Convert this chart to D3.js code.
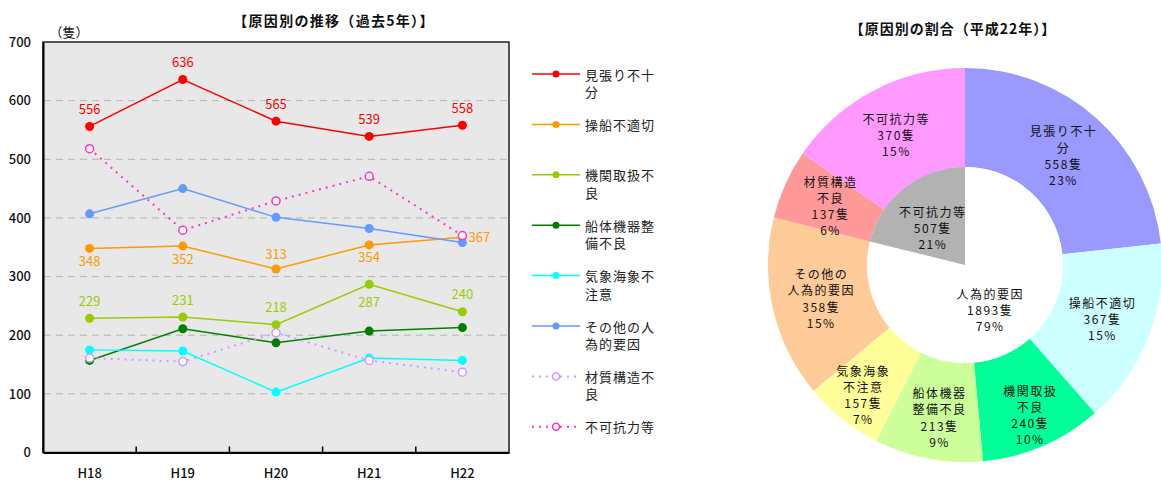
<!DOCTYPE html>
<html><head><meta charset="utf-8">
<script src="https://cdn.jsdelivr.net/npm/d3@7"></script>
<style>body{margin:0;background:#fff}svg{display:block}text{font-family:"Noto Sans CJK JP","Noto Sans",sans-serif}</style>
</head><body><svg id="c" width="1161" height="483"></svg>
<script>
// ---- data ----
const years = ["H18","H19","H20","H21","H22"];
const seriesNames = ["見張り不十分","操船不適切","機関取扱不良","船体機器整備不良","気象海象不注意","その他の人為的要因","材質構造不良","不可抗力等"];
const miharibu = [556,636,565,539,558];
const sosen = [348,352,313,354,367];
const kikan = [229,231,218,287,240];
const sentai = [157,211,187,207,213];
const kisho = [175,173,103,161,157];
const sonota = [407,450,401,382,358];
const zaishitsu = [161,155,204,157,137];
const fuka = [518,379,429,471,370];
const yTicks = [0,100,200,300,400,500,600,700];
const pieValues = [558,367,240,213,157,358,137,370];
const pieLabelLines = [["見張り不十","分"],["操船不適切"],["機関取扱","不良"],["船体機器","整備不良"],["気象海象","不注意"],["その他の","人為的要因"],["材質構造","不良"],["不可抗力等"]];
const innerNames = ["人為的要因","不可抗力等"];
const innerValues = [1893,507];

// ---- styles ----
const svg = d3.select("#c");
const seriesData = [miharibu,sosen,kikan,sentai,kisho,sonota,zaishitsu,fuka];
const colors = ["#ff0000","#ff9900","#99cc00","#008000","#00ffff","#6699ff","#cc99ff","#ff33cc"];
const dotted = [false,false,false,false,false,false,true,true];

// ---- line chart ----
const L = {x0:43, x1:509, y0:452.5, y1:42};
const x = d3.scaleBand().domain(years).range([L.x0, L.x1]).padding(0);
const y = d3.scaleLinear().domain([0,700]).range([L.y0, L.y1]);
const cx = d => x(d) + x.bandwidth()/2;

svg.append("rect").attr("x",L.x0).attr("y",L.y1).attr("width",L.x1-L.x0).attr("height",L.y0-L.y1)
  .attr("fill","#e8e8e8").attr("stroke","#222").attr("stroke-width",1.5);

svg.append("g").selectAll("line").data(yTicks.filter(t=>t>0 && t<700)).join("line")
  .attr("x1",L.x0+1).attr("x2",L.x1-1).attr("y1",d=>y(d)).attr("y2",d=>y(d))
  .attr("stroke","#b4b4b4").attr("stroke-width",1).attr("stroke-dasharray","7,5");

// axes
const yAxis = d3.axisLeft(y).tickValues(yTicks).tickSize(0).tickPadding(12);
const gy = svg.append("g").attr("transform",`translate(${L.x0},0)`).call(yAxis);
gy.select(".domain").attr("stroke","#000").attr("stroke-width",2);
gy.selectAll("text").attr("font-size",13).attr("fill","#111").attr("font-weight",500);

const xAxis = d3.axisBottom(x).tickSize(0).tickPadding(16);
const gx = svg.append("g").attr("transform",`translate(0,${L.y0})`).call(xAxis);
gx.select(".domain").attr("stroke","#000").attr("stroke-width",2);
gx.selectAll("text").attr("font-size",13).attr("fill","#111").attr("font-weight",500);
svg.append("g").selectAll("line").data(years.slice(1)).join("line")
  .attr("x1",d=>x(d)).attr("x2",d=>x(d)).attr("y1",L.y0).attr("y2",L.y0-6)
  .attr("stroke","#000").attr("stroke-width",1.5);

svg.append("text").attr("x",69).attr("y",31).attr("text-anchor","middle").attr("dominant-baseline","central")
  .attr("font-size",13).attr("fill","#111").text("（隻）");
svg.append("text").attr("x",334).attr("y",20).attr("text-anchor","middle").attr("dominant-baseline","central")
  .attr("font-size",14).attr("font-weight",700).attr("letter-spacing",1.3).attr("fill","#111").text("【原因別の推移（過去5年）】");

const line = d3.line().x((d,i)=>cx(years[i])).y(d=>y(d));
seriesData.forEach((s,k)=>{
  const g = svg.append("g");
  g.append("path").datum(s).attr("d",line).attr("fill","none").attr("stroke",colors[k])
    .attr("stroke-width",dotted[k]?2:1.5).attr("stroke-dasharray",dotted[k]?"2,5":null);
  g.selectAll("circle").data(s).join("circle").attr("cx",(d,i)=>cx(years[i])).attr("cy",d=>y(d))
    .attr("r",dotted[k]?4:4.5).attr("fill",dotted[k]?"#fff":colors[k])
    .attr("stroke",colors[k]).attr("stroke-width",dotted[k]?1.5:0);
});

// data labels (placement per point)
const labelPlace = [
  [[0,-18],[0,-18],[0,-18],[0,-18],[0,-18]],
  [[0,12],[0,12],[0,-15],[0,12],[17,-1]],
  [[0,-18],[0,-18],[0,-18],[0,17],[0,-18]]
];
labelPlace.forEach((pl,k)=>{
  svg.append("g").selectAll("text").data(seriesData[k]).join("text")
    .attr("x",(d,i)=>cx(years[i])+pl[i][0]).attr("y",(d,i)=>y(d)+pl[i][1])
    .attr("text-anchor","middle").attr("dominant-baseline","central")
    .attr("font-size",13).attr("fill",colors[k]).text(d=>d);
});

// legend
const lg = svg.append("g");
seriesNames.forEach((n,k)=>{
  const yy = 74 + k*50.4;
  lg.append("line").attr("x1",532).attr("x2",580).attr("y1",yy).attr("y2",yy).attr("stroke",colors[k])
    .attr("stroke-width",dotted[k]?2:1.5).attr("stroke-dasharray",dotted[k]?"2,5":null);
  lg.append("circle").attr("cx",556).attr("cy",yy).attr("r",3.5)
    .attr("fill",dotted[k]?"#fff":colors[k]).attr("stroke",colors[k]).attr("stroke-width",dotted[k]?1.5:0);
  const lines = [n.slice(0,5), n.slice(5)].filter(s=>s.length);
  lines.forEach((t,j)=>{
    lg.append("text").attr("x",585).attr("y",yy+j*17.5).attr("dominant-baseline","central")
      .attr("font-size",13).attr("letter-spacing",1).attr("fill","#222").text(t);
  });
});

// ---- pie chart ----
const P = {cx:965, cy:265, R:197, r:98};
const pieColors = ["#9999ff","#ccffff","#00ff99","#ccff99","#ffff99","#ffcc99","#ff9999","#ff99ff"];
const innerColors = ["#ffffff","#b2b2b2"];
svg.append("text").attr("x",953).attr("y",28).attr("text-anchor","middle").attr("dominant-baseline","central")
  .attr("font-size",14).attr("font-weight",700).attr("letter-spacing",1).attr("fill","#111").text("【原因別の割合（平成22年）】");

const pg = svg.append("g").attr("transform",`translate(${P.cx},${P.cy})`);
const pie = d3.pie().sort(null).value(d=>d);
const outerArcs = pie(pieValues);
const innerArcs = pie(innerValues);
const arcO = d3.arc().innerRadius(P.r).outerRadius(P.R);
const arcI = d3.arc().innerRadius(0).outerRadius(P.r);
pg.selectAll("path.o").data(outerArcs).join("path").attr("class","o").attr("d",arcO).attr("fill",(d,i)=>pieColors[i]);
pg.selectAll("path.i").data(innerArcs).join("path").attr("class","i").attr("d",arcI).attr("fill",(d,i)=>innerColors[i]);

const totalO = d3.sum(pieValues), totalI = d3.sum(innerValues);
const nudgeO = [[0,0],[0,0],[7,14],[2,7],[-10,14],[0,0],[0,1],[0,0]];
const nudgeI = [[-5,6],[-2,1]];
function drawLabel(c, lines, nud){
  const lh = 16.2;
  const y0 = c[1] + nud[1] - (lines.length-1)*lh/2;
  lines.forEach((t,j)=>{
    pg.append("text").attr("x",c[0]+nud[0]).attr("y",y0+j*lh).attr("text-anchor","middle")
      .attr("dominant-baseline","central").attr("font-size",12).attr("letter-spacing",1.5)
      .attr("fill","#111").text(t);
  });
}
outerArcs.forEach((a,i)=>{
  drawLabel(arcO.centroid(a), [...pieLabelLines[i], pieValues[i]+"隻", Math.round(pieValues[i]/totalO*100)+"%"], nudgeO[i]);
});
innerArcs.forEach((a,i)=>{
  drawLabel(arcI.centroid(a), [innerNames[i], innerValues[i]+"隻", Math.round(innerValues[i]/totalI*100)+"%"], nudgeI[i]);
});
</script></body></html>
